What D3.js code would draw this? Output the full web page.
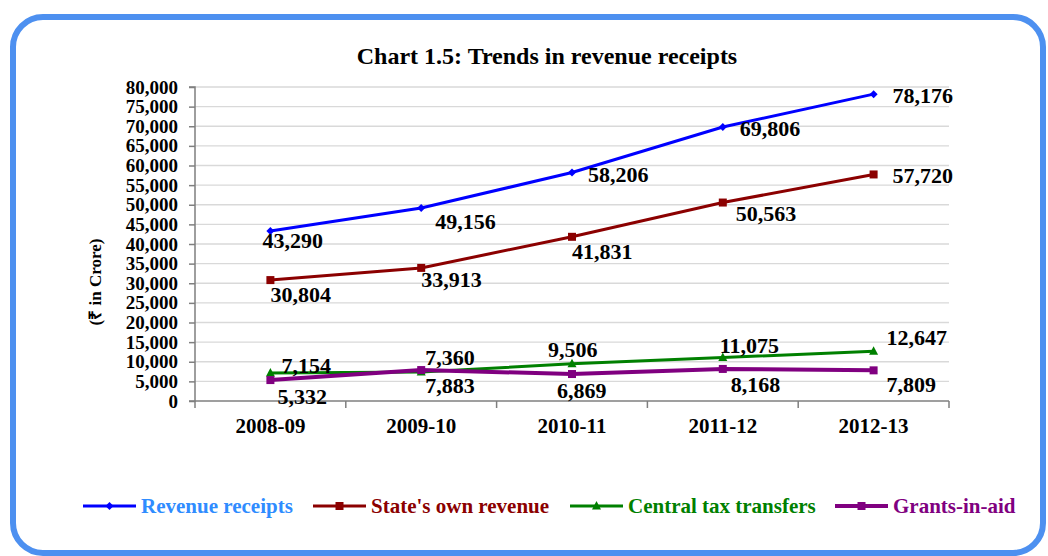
<!DOCTYPE html>
<html lang="en">
<meta charset="utf-8">
<script src="https://d3js.org/d3.v7.min.js"></script>
<style>
  body { margin: 0; background: #fff; }
  text { font-family: "Liberation Serif", "Times New Roman", serif; font-weight: bold; }
</style>
<body>
<svg id="chart" width="1048" height="556"></svg>
<script>
// data
var years = ["2008-09", "2009-10", "2010-11", "2011-12", "2012-13"];
var revenueReceipts = [43290, 49156, 58206, 69806, 78176];
var stateOwnRevenue = [30804, 33913, 41831, 50563, 57720];
var centralTaxTransfers = [7154, 7360, 9506, 11075, 12647];
var grantsInAid = [5332, 7883, 6869, 8168, 7809];
var yTicks = d3.range(0, 80001, 5000);

// label nudges (left edge / vertical middle relative to point)
var nudges = [
  [[-8, 9], [14, 13], [16, 2], [17, 1], [19, 1]],
  [[0, 14], [0, 11], [0, 14], [13, 11], [19, 1]],
  [[11, -8], [4, -15], [-24, -14], [-3, -12], [13, -14]],
  [[7, 16], [4, 15], [-15, 16], [8, 15], [13, 14]]
];

var series = [
  {name: "Revenue receipts", values: revenueReceipts, color: "#0000ff", text: "#2f8cff", marker: "diamond", w: 3},
  {name: "State's own revenue", values: stateOwnRevenue, color: "#8b0000", text: "#8b0000", marker: "square", w: 3},
  {name: "Central tax transfers", values: centralTaxTransfers, color: "#008000", text: "#008000", marker: "triangle", w: 3},
  {name: "Grants-in-aid", values: grantsInAid, color: "#800080", text: "#800080", marker: "square", w: 4}
];

var svg = d3.select("#chart");

// outer frame
svg.append("rect")
  .attr("x", 13).attr("y", 17).attr("width", 1030).attr("height", 536)
  .attr("rx", 30).attr("ry", 30)
  .attr("fill", "#fff").attr("stroke", "#4d90f0").attr("stroke-width", 6);

var plotLeft = 195, plotRight = 949, plotTop = 87, plotBottom = 401;

var x = d3.scaleBand().domain(years).range([plotLeft, plotRight]);
var y = d3.scaleLinear().domain([0, 80000]).range([plotBottom, plotTop]);

svg.append("text")
  .attr("x", 547).attr("y", 64)
  .attr("text-anchor", "middle")
  .attr("font-size", "24px")
  .text("Chart 1.5: Trends in revenue receipts");

// gridlines
svg.append("g").selectAll("line")
  .data(yTicks.filter(d => d > 0))
  .enter().append("line")
  .attr("x1", plotLeft).attr("x2", plotRight)
  .attr("y1", d => y(d)).attr("y2", d => y(d))
  .attr("stroke", "#d9d9d9").attr("stroke-width", 1.3);

// y axis
var yAxis = svg.append("g")
  .attr("transform", "translate(" + plotLeft + ",0)")
  .call(d3.axisLeft(y).tickValues(yTicks).tickSize(6).tickPadding(11).tickFormat(d3.format(",")));
yAxis.selectAll("text").attr("font-size", "19px").attr("fill", "#000")
  .style("font-family", "'Liberation Serif', serif").style("font-weight", "bold");
yAxis.selectAll("line, path").attr("stroke", "#7f7f7f").attr("stroke-width", 1.5);
yAxis.select("path").attr("d", "M-6," + plotTop + "H0V" + plotBottom + "H-6");

// x axis
var xAxis = svg.append("g")
  .attr("transform", "translate(0," + plotBottom + ")")
  .call(d3.axisBottom(x).tickSize(0).tickPadding(17));
xAxis.select("path").attr("stroke", "#7f7f7f").attr("stroke-width", 1.5)
  .attr("d", "M" + plotLeft + ",0H" + plotRight);
xAxis.selectAll("text").attr("font-size", "21px").attr("fill", "#000")
  .style("font-family", "'Liberation Serif', serif").style("font-weight", "bold");
svg.append("g").selectAll("line")
  .data(years.map(d => x(d)).concat([plotRight]))
  .enter().append("line")
  .attr("x1", d => d).attr("x2", d => d)
  .attr("y1", plotBottom).attr("y2", plotBottom + 7)
  .attr("stroke", "#7f7f7f").attr("stroke-width", 1.5);

svg.append("text")
  .attr("transform", "translate(101,282) rotate(-90)")
  .attr("text-anchor", "middle")
  .attr("font-size", "17px")
  .text("(₹ in Crore)");

var cx = d => x(d) + x.bandwidth() / 2;

function drawMarker(g, type, color, px, py) {
  if (type === "diamond") {
    g.append("path").attr("d", "M" + px + "," + (py - 4) + "L" + (px + 4) + "," + py + "L" + px + "," + (py + 4) + "L" + (px - 4) + "," + py + "Z")
      .attr("fill", color);
  } else if (type === "square") {
    g.append("rect").attr("x", px - 4).attr("y", py - 4).attr("width", 8).attr("height", 8).attr("fill", color);
  } else {
    g.append("path").attr("d", "M" + px + "," + (py - 5) + "L" + (px + 4.5) + "," + (py + 3.5) + "L" + (px - 4.5) + "," + (py + 3.5) + "Z")
      .attr("fill", color);
  }
}

var line = d3.line().x(d => cx(d.year)).y(d => y(d.value));

series.forEach(function(s, si) {
  var pts = years.map((yr, i) => ({year: yr, value: s.values[i]}));
  var g = svg.append("g");
  g.append("path").datum(pts)
    .attr("d", line).attr("fill", "none")
    .attr("stroke", s.color).attr("stroke-width", s.w);
  pts.forEach(function(p) { drawMarker(g, s.marker, s.color, cx(p.year), y(p.value)); });
  g.selectAll("text.lbl").data(pts).enter().append("text")
    .attr("class", "lbl")
    .attr("x", (d, i) => cx(d.year) + nudges[si][i][0])
    .attr("y", (d, i) => y(d.value) + nudges[si][i][1])
    .attr("dy", "0.35em")
    .attr("font-size", "22px")
    .attr("fill", "#000")
    .text(d => d3.format(",")(d.value));
});

// legend
var legendX = [83, 313, 570, 835];
series.forEach(function(s, i) {
  var g = svg.append("g").attr("transform", "translate(" + legendX[i] + ",506)");
  g.append("line").attr("x1", 0).attr("x2", 53).attr("y1", 0).attr("y2", 0)
    .attr("stroke", s.color).attr("stroke-width", s.w);
  drawMarker(g, s.marker, s.color, 26.5, 0);
  g.append("text").attr("x", 58).attr("y", 0).attr("dy", "0.35em")
    .attr("font-size", "21px").attr("fill", s.text).text(s.name);
});
</script>
</body>
</html>
